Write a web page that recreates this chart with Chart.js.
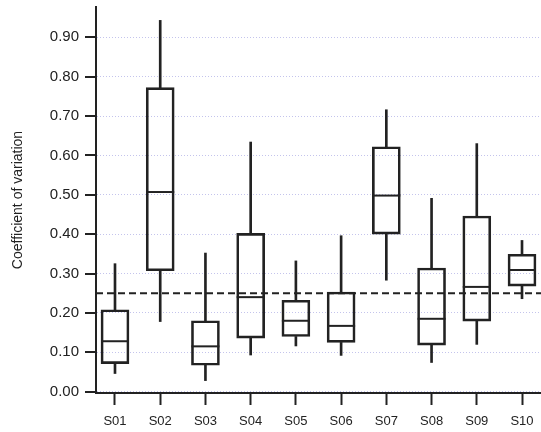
<!DOCTYPE html>
<html>
<head>
<meta charset="utf-8">
<script src="https://cdn.jsdelivr.net/npm/chart.js@4/dist/chart.umd.min.js"></script>
<style>
  html, body { margin: 0; padding: 0; background: #fff; }
  #wrap { width: 541px; height: 432px; }
</style>
</head>
<body>
<div id="wrap"><canvas id="cv" width="541" height="432"></canvas></div>
<script>
// Box plot summary per subject
const categories = ['S01', 'S02', 'S03', 'S04', 'S05', 'S06', 'S07', 'S08', 'S09', 'S10'];
const whiskerLow  = [0.046, 0.178, 0.028, 0.093, 0.116, 0.092, 0.283, 0.074, 0.120, 0.236];
const boxLow      = [0.071, 0.307, 0.067, 0.136, 0.140, 0.125, 0.400, 0.118, 0.179, 0.268];
const medians     = [0.128, 0.507, 0.115, 0.240, 0.180, 0.167, 0.498, 0.185, 0.266, 0.309];
const boxHigh     = [0.208, 0.772, 0.180, 0.402, 0.232, 0.253, 0.622, 0.314, 0.446, 0.349];
const whiskerHigh = [0.325, 0.943, 0.352, 0.634, 0.332, 0.396, 0.716, 0.491, 0.630, 0.384];
const referenceLevel = 0.25;
const yTickValues = [0, 0.05, 0.10, 0.15, 0.20, 0.25, 0.30, 0.35, 0.40, 0.45,
                     0.50, 0.55, 0.60, 0.65, 0.70, 0.75, 0.80, 0.85, 0.90, 0.95];

const X_MIN = 0.58, X_MAX = 10.42;
const INK = '#222';
const FONT = "'Liberation Sans', Arial, sans-serif";

const isMajor = (v) => Math.round(v * 20) % 2 === 0;

// y-axis tick marks: long at labelled values, short in between
const yTickMarks = {
  id: 'yTickMarks',
  afterDraw(chart) {
    const y = chart.scales.y;
    const ctx = chart.ctx;
    ctx.save();
    ctx.strokeStyle = INK;
    ctx.lineWidth = 2;
    for (const t of y.ticks) {
      const py = Math.round(y.getPixelForValue(t.value));
      const len = isMajor(t.value) ? 11 : 6;
      ctx.beginPath();
      ctx.moveTo(y.right - len, py);
      ctx.lineTo(y.right, py);
      ctx.stroke();
    }
    ctx.restore();
  }
};

const at = (arr) => arr.map((v, i) => ({ x: i + 1, y: v }));
const span = (lo, hi) => lo.map((v, i) => ({ x: i + 1, y: [v, hi[i]] }));

new Chart(document.getElementById('cv'), {
  type: 'bar',
  data: {
    datasets: [
      {
        type: 'line',
        data: [{ x: X_MIN, y: referenceLevel }, { x: X_MAX, y: referenceLevel }],
        borderColor: INK,
        borderWidth: 2,
        borderDash: [7, 4],
        pointRadius: 0,
        order: 5,
      },
      {
        data: span(boxHigh, whiskerHigh),
        backgroundColor: INK,
        borderWidth: 0,
        barThickness: 2,
        grouped: false,
        order: 4,
      },
      {
        data: span(whiskerLow, boxLow),
        backgroundColor: INK,
        borderWidth: 0,
        barThickness: 2,
        grouped: false,
        order: 4,
      },
      {
        data: span(boxLow, boxHigh),
        backgroundColor: 'rgba(0,0,0,0)',
        borderColor: INK,
        borderWidth: 2,
        borderSkipped: false,
        barThickness: 28,
        grouped: false,
        order: 3,
      },
      {
        type: 'line',
        data: at(medians),
        showLine: false,
        pointStyle: 'line',
        pointRadius: 14,
        pointBorderWidth: 2,
        pointBorderColor: INK,
        order: 1,
      },
    ],
  },
  options: {
    responsive: false,
    animation: false,
    layout: { autoPadding: false, padding: { top: 7, right: 0, bottom: 0, left: 0 } },
    plugins: {
      legend: { display: false },
      tooltip: { enabled: false },
    },
    scales: {
      x: {
        type: 'linear',
        min: X_MIN,
        max: X_MAX,
        offset: false,
        afterBuildTicks: (scale) => {
          scale.ticks = categories.map((c, i) => ({ value: i + 1 }));
        },
        afterFit: (scale) => {
          scale.height = 39;
          scale.paddingLeft = 0;
          scale.paddingRight = 0;
        },
        ticks: {
          callback: (v) => categories[v - 1],
          color: INK,
          font: { family: FONT, size: 13 },
          padding: 9,
          maxRotation: 0,
        },
        grid: {
          display: true,
          offset: false,
          drawOnChartArea: false,
          drawTicks: true,
          tickLength: 12,
          tickColor: INK,
          tickWidth: 2,
        },
        border: { display: true, color: INK, width: 2 },
      },
      y: {
        min: -0.0035,
        max: 0.977,
        afterBuildTicks: (scale) => {
          scale.ticks = yTickValues.map((v) => ({ value: v }));
        },
        afterFit: (scale) => {
          scale.width = 96;
          scale.paddingTop = 0;
          scale.paddingBottom = 0;
        },
        ticks: {
          callback: (v) => (isMajor(v) ? v.toFixed(2) : ''),
          color: INK,
          font: { family: FONT, size: 15 },
          padding: 17,
        },
        grid: {
          display: true,
          drawTicks: false,
          color: '#c4c4ec',
          lineWidth: 1,
        },
        border: { display: true, color: INK, width: 2, dash: [1, 2] },
        title: {
          display: true,
          text: 'Coefficient of variation',
          color: INK,
          font: { family: FONT, size: 14 },
          padding: { top: 10, bottom: 0 },
        },
      },
    },
  },
  plugins: [yTickMarks],
});
</script>
</body>
</html>
